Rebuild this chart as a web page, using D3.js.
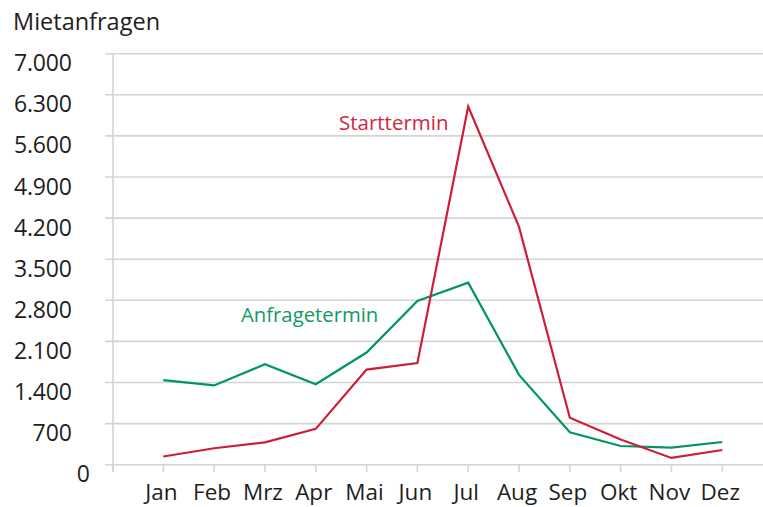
<!DOCTYPE html>
<html><head><meta charset="utf-8">
<script src="https://cdn.jsdelivr.net/npm/d3@7"></script>
<style>body{margin:0;background:#fff;} text{font-family:"Open Sans",sans-serif;}</style>
</head><body><svg id="c" width="763" height="507"></svg>
<script>
const months = ["Jan","Feb","Mrz","Apr","Mai","Jun","Jul","Aug","Sep","Okt","Nov","Dez"];
const starttermin = [140,280,380,610,1620,1730,6100,4050,800,430,115,250];
const anfragetermin = [1440,1350,1710,1370,1910,2790,3100,1530,552,318,290,387];
const yTicks = [0,700,1400,2100,2800,3500,4200,4900,5600,6300,7000];
const yTitle = "Mietanfragen";

const svg = d3.select("#c");
const x = d3.scalePoint().domain(months).range([163.3, 722.3]);
const y = d3.scaleLinear().domain([0,7000]).range([464.7, 53.7]);
const fmt = v => d3.format(",")(v).replace(/,/g,".");

// gridlines
svg.append("g").selectAll("line").data(yTicks).join("line")
  .attr("x1",105).attr("x2",763).attr("y1",d=>y(d)).attr("y2",d=>y(d))
  .attr("stroke","#d4d4d4").attr("stroke-width",1.6);
// y axis line
svg.append("line").attr("x1",113).attr("x2",113).attr("y1",y(7000)).attr("y2",472)
  .attr("stroke","#d4d4d4").attr("stroke-width",1.6);
// x ticks
const xt = [113].concat(months.map(m=>x(m)));
svg.append("g").selectAll("line").data(xt).join("line")
  .attr("x1",d=>d).attr("x2",d=>d).attr("y1",y(0)).attr("y2",472)
  .attr("stroke","#d4d4d4").attr("stroke-width",1.6);

// y labels
svg.append("g").selectAll("text").data(yTicks).join("text")
  .attr("x",d=>d===0?90:72).attr("y",d=>y(d)+17.5)
  .attr("text-anchor","end").attr("font-size",23).attr("fill","#1e1e1e")
  .attr("textLength",d=>d>=1000?58:null)
  .text(fmt);
// x labels
svg.append("g").selectAll("text").data(months).join("text")
  .attr("x",d=>x(d)-2).attr("y",500)
  .attr("text-anchor","middle").attr("font-size",22.5).attr("fill","#1e1e1e")
  .text(d=>d);
// title
svg.append("text").attr("x",13).attr("y",30).attr("font-size",23.5).attr("fill","#1e1e1e").text(yTitle);

const line = d3.line().x((d,i)=>x(months[i])).y(d=>y(d));
svg.append("path").datum(anfragetermin).attr("d",line).attr("fill","none")
  .attr("stroke","#00965e").attr("stroke-width",2.2);
svg.append("path").datum(starttermin).attr("d",line).attr("fill","none")
  .attr("stroke","#cc1f36").attr("stroke-width",2.2);

svg.append("text").attr("x",339).attr("y",130).attr("font-size",20.5).attr("fill","#d0283f").text("Starttermin");
svg.append("text").attr("x",241).attr("y",322).attr("font-size",20.3).attr("fill","#109a62").text("Anfragetermin");
</script></body></html>
